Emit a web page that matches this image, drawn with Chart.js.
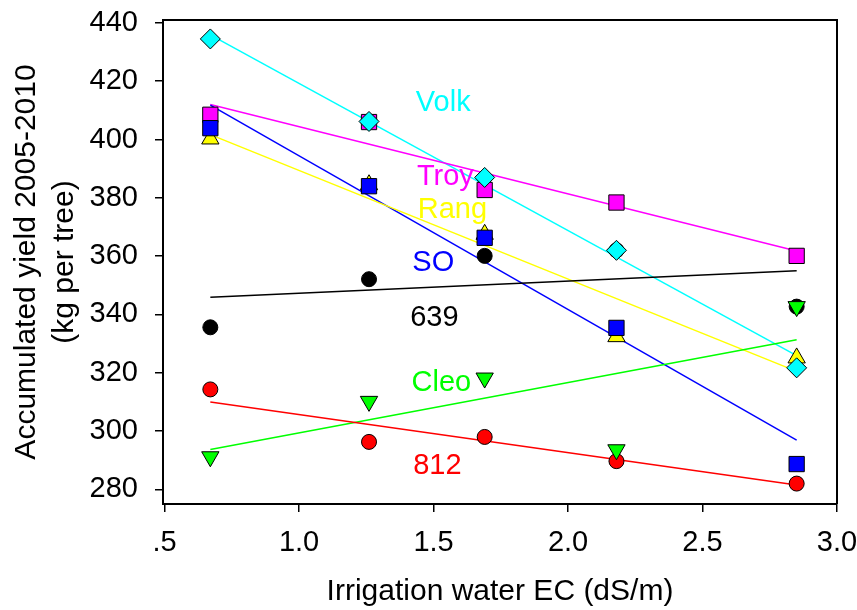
<!DOCTYPE html>
<html>
<head>
<meta charset="utf-8">
<script src="https://cdn.jsdelivr.net/npm/chart.js@4/dist/chart.umd.min.js"></script>
<style>
  body { margin: 0; background: #fff; }
  canvas { display: block; }
</style>
</head>
<body>
<canvas id="chart1" width="857" height="610"></canvas>
<script>
// irrigation water EC of the five treatments
const ecValues = [0.67, 1.26, 1.69, 2.18, 2.85];
const fitEnds = [0.67, 2.85];

// accumulated yield per rootstock (kg per tree)
const volk = [434.5, 406.2, 387.0, 362.0, 321.7];
const troy = [408.5, 406.0, 382.7, 378.4, 360.1];
const so = [403.9, 384.0, 366.3, 335.4, 288.7];
const rang = [400.2, 384.5, 367.5, 332.4, 325.1];
const r639 = [335.6, 352.1, 360.1, 362.0, 342.7];
const cleo = [291.2, 310.2, 318.2, 293.6, 342.7];
const r812 = [314.3, 296.3, 298.0, 289.7, 282.0];

// regression lines, read at both ends
const volkFit = [435.9, 325.9];
const troyFit = [412.0, 361.8];
const soFit = [411.8, 296.9];
const rangFit = [401.7, 320.5];
const fit639 = [345.9, 355.0];
const cleoFit = [293.7, 331.3];
const fit812 = [310.0, 281.5];

const xTicks = [0.5, 1.0, 1.5, 2.0, 2.5, 3.0];
const xTickLabels = [".5", "1.0", "1.5", "2.0", "2.5", "3.0"];
const yTicks = [280, 300, 320, 340, 360, 380, 400, 420, 440];

const names = ["Volk", "Troy", "Rang", "SO", "639", "Cleo", "812"];
const nameColors = ["#00FFFF", "#FF00FF", "#FFFF00", "#0000FF", "#000000", "#00FF00", "#FF0000"];
// where the names sit, in axis units
const nameX = [1.536, 1.544, 1.570, 1.499, 1.503, 1.529, 1.514];
const nameY = [412.7, 387.0, 375.7, 357.7, 338.8, 316.4, 288.1];

const font = '"Liberation Sans", Arial, sans-serif';

function pts(ys, xs) {
  return ys.map((y, i) => ({ x: xs[i], y: y }));
}

function marks(label, ys, color, style, radius, order, rotation) {
  return {
    label: label,
    data: pts(ys, ecValues),
    pointStyle: style,
    pointRadius: radius,
    pointRotation: rotation || 0,
    backgroundColor: color,
    borderColor: "#000",
    borderWidth: 1,
    showLine: false,
    order: order
  };
}

function fitLine(label, ys, color) {
  return {
    label: label,
    data: pts(ys, fitEnds),
    showLine: true,
    borderColor: color,
    borderWidth: 1.5,
    pointRadius: 0,
    fill: false,
    order: 20
  };
}

let ctx = document.getElementById('chart1').getContext("2d");
let myChart = new Chart(ctx, {
  type: "scatter",
  data: {
    datasets: [
      fitLine("fit 639", fit639, "#000000"),
      fitLine("fit 812", fit812, "#FF0000"),
      fitLine("fit Cleo", cleoFit, "#00FF00"),
      fitLine("fit Rang", rangFit, "#FFFF00"),
      fitLine("fit SO", soFit, "#0000FF"),
      fitLine("fit Troy", troyFit, "#FF00FF"),
      fitLine("fit Volk", volkFit, "#00FFFF"),
      marks("639", r639, "#000000", "circle", 7.5, 7),
      marks("812", r812, "#FF0000", "circle", 7.5, 6),
      marks("Rang", rang, "#FFFF00", "triangle", 10, 5),
      marks("Troy", troy, "#FF00FF", "rect", 10.8, 4),
      marks("SO", so, "#0000FF", "rect", 10.8, 3),
      marks("Cleo", cleo, "#00FF00", "triangle", 10, 2, 180),
      marks("Volk", volk, "#00FFFF", "rectRot", 10, 1)
    ]
  },
  options: {
    responsive: false,
    animation: false,
    events: [],
    layout: {
      padding: { left: 0, right: 20, top: 20, bottom: 0 }
    },
    plugins: {
      legend: { display: false },
      tooltip: { enabled: false }
    },
    scales: {
      x: {
        type: "linear",
        min: 0.494,
        max: 3.0,
        border: { display: true, color: "#000", width: 2 },
        grid: { display: true, drawOnChartArea: false, drawTicks: true, tickLength: 8, color: "#000", lineWidth: 1.5 },
        afterBuildTicks: (scale) => { scale.ticks = xTicks.map(v => ({ value: v })); },
        afterFit: (scale) => { scale.height = 106; scale.paddingLeft = 0; scale.paddingRight = 0; },
        ticks: {
          color: "#000",
          padding: 14,
          maxRotation: 0,
          font: { family: font, size: 29 },
          callback: (v) => xTickLabels[xTicks.indexOf(v)]
        },
        title: {
          display: true,
          text: "Irrigation water EC (dS/m)",
          color: "#000",
          font: { family: font, size: 30, lineHeight: 1.2 },
          padding: { top: 0, bottom: 0 }
        }
      },
      y: {
        type: "linear",
        min: 275,
        max: 441,
        border: { display: true, color: "#000", width: 2 },
        grid: { display: true, drawOnChartArea: false, drawTicks: true, tickLength: 8, color: "#000", lineWidth: 1.5 },
        afterBuildTicks: (scale) => { scale.ticks = yTicks.map(v => ({ value: v })); },
        afterFit: (scale) => { scale.width = 163; scale.paddingTop = 0; scale.paddingBottom = 0; },
        ticks: {
          color: "#000",
          padding: 17,
          font: { family: font, size: 29 }
        },
        title: {
          display: true,
          text: ["Accumulated yield 2005-2010", "(kg per tree)"],
          color: "#000",
          font: { family: font, size: 30, lineHeight: 1.25 },
          padding: { top: 8, bottom: 0 }
        }
      }
    }
  },
  plugins: [{
    id: 'frame',
    beforeDraw: (chart) => {
      const c = chart.ctx;
      c.save();
      c.fillStyle = '#fff';
      c.fillRect(0, 0, chart.width, chart.height);
      c.restore();
    },
    beforeDatasetsDraw: (chart) => {
      const c = chart.ctx;
      const a = chart.chartArea;
      c.save();
      c.strokeStyle = '#000';
      c.lineWidth = 2;
      c.beginPath();
      c.moveTo(a.left, a.top);
      c.lineTo(a.right, a.top);
      c.lineTo(a.right, a.bottom);
      c.stroke();
      c.restore();
    },
    afterDatasetsDraw: (chart) => {
      const c = chart.ctx;
      const xs = chart.scales.x;
      const ys = chart.scales.y;
      c.save();
      c.font = '29px ' + font;
      c.textAlign = 'center';
      c.textBaseline = 'middle';
      names.forEach((n, i) => {
        c.fillStyle = nameColors[i];
        c.fillText(n, xs.getPixelForValue(nameX[i]), ys.getPixelForValue(nameY[i]));
      });
      c.restore();
    }
  }]
});
</script>
</body>
</html>
